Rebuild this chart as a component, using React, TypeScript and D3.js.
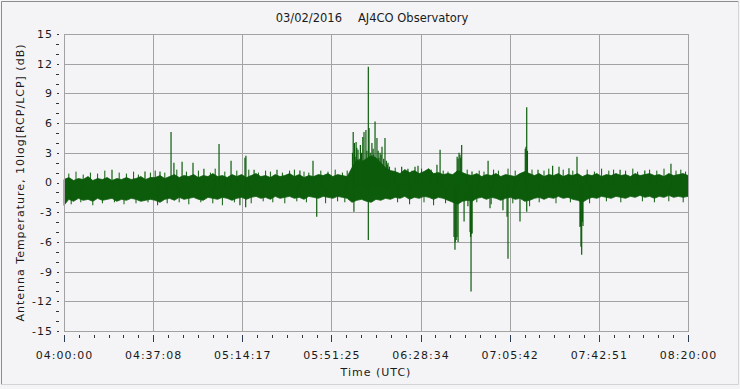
import React from "react";
import * as d3 from "d3";

// ---- data ----
const titleDate = "03/02/2016";
const titleSite = "AJ4CO Observatory";
const xTickLabels = ["04:00:00", "04:37:08", "05:14:17", "05:51:25", "06:28:34", "07:05:42", "07:42:51", "08:20:00"];
const yTickValues = [-15, -12, -9, -6, -3, 0, 3, 6, 9, 12, 15];
const xTitle = "Time (UTC)";
const yTitle = "Antenna Temperature, 10log[RCP/LCP] (dB)";

// envelope of the dense noise band, sampled every 2 minutes from 04:00 (minutes)
const envStep = 2;
const bandUpper = [
  0.3, 0.5, 0.2, 0.4, 0.3, 0.6, 0.2, 0.4, 0.3, 0.5, 0.2, 0.4, 0.3, 0.5, 0.3, 0.4, 0.6, 0.3, 0.5,
  0.5, 0.7, 0.4, 0.6, 0.8, 0.5, 0.7, 0.6, 0.8, 0.5, 0.7, 0.6, 0.9, 0.6, 0.7, 0.5, 0.8,
  0.6, 0.8, 0.5, 0.7, 0.9, 0.6, 0.7, 0.5, 0.8, 0.6, 0.7, 0.9, 0.6, 0.8, 0.5, 0.7, 0.6, 0.8, 0.7, 0.9, 0.6, 0.8, 0.7, 0.6,
  1.5, 2.3, 2.1, 2.4, 2.7, 2.5, 2.0, 1.5, 1.2,
  1.1, 0.9, 1.3, 1.0, 1.2, 0.9, 1.1, 1.4, 0.9, 1.0, 0.8, 0.9,
  0.8, 1.2, 1.0, 0.8, 0.7, 0.9, 0.6, 0.8, 0.7, 0.9,
  0.6, 0.8, 0.7, 0.6, 0.9, 1.1, 0.9, 0.7, 0.9, 0.6,
  0.8, 0.7, 0.9, 0.6, 0.8, 0.7, 0.9, 0.6, 0.8, 0.7,
  0.9, 0.6, 0.8, 0.7, 0.9, 0.7, 0.8, 0.6, 0.9, 0.7,
  0.8, 0.9, 0.7, 0.8, 0.6, 0.9, 0.7, 0.8, 0.9, 0.7,
];
const bandLower = [
  -2.3, -1.7, -1.9, -1.6, -1.8, -1.7, -1.9, -1.6, -1.8, -1.7, -1.6, -1.9, -1.7, -1.8, -1.6, -1.7, -1.9, -1.8, -1.7,
  -1.8, -2.0, -1.7, -1.6, -1.8, -1.5, -1.7, -1.6, -1.5, -1.7, -1.8, -1.5, -1.6, -1.7, -1.5, -1.6, -1.8,
  -1.6, -1.5, -1.7, -1.5, -1.4, -1.6, -1.5, -1.7, -1.4, -1.6, -1.5, -1.4, -1.6, -1.5, -1.7, -1.4, -1.5, -1.6, -1.4, -1.5, -1.6, -1.4, -1.5, -1.6,
  -2.0, -1.8, -1.7, -1.9, -2.0, -1.7, -1.8, -1.6, -1.7,
  -1.5, -1.6, -1.4, -1.7, -1.5, -1.6, -1.4, -1.5, -1.7, -1.5, -1.6, -1.8,
  -2.0, -2.2, -1.9, -1.8, -1.9, -1.6, -1.5, -1.7, -1.5, -1.6,
  -1.8, -1.6, -1.5, -1.7, -1.6, -1.9, -1.8, -1.6, -1.5, -1.7,
  -1.5, -1.6, -1.4, -1.6, -1.5, -1.7, -1.8, -2.0, -1.7, -1.5,
  -1.6, -1.4, -1.5, -1.6, -1.4, -1.5, -1.6, -1.4, -1.5, -1.3,
  -1.5, -1.4, -1.6, -1.4, -1.5, -1.3, -1.5, -1.4, -1.5, -1.4,
];

// isolated spikes: minutes after 04:00 and dB
const spikeTimes = [
  20.0, 33.75, 40.0, 44.6, 45.8, 49.2, 53.75, 58.3, 64.6, 69.6, 75.4, 75.8, 79.2, 88.75, 98.3, 103.75,
  120.5, 121.0, 121.7, 122.5, 123.5, 125.0, 125.8, 126.8, 127.1, 128.3, 129.6, 130.4, 131.7, 132.5, 133.75, 135.0,
  120.2, 121.3, 122.0, 123.0, 124.0, 124.5, 126.2, 127.6, 128.8, 129.0, 130.9, 131.2, 132.1, 133.2, 134.3, 134.7, 135.6,
  140.7, 143.3, 146.25, 147.5, 155.4, 156.7, 163.8, 164.2, 164.6, 165.0, 165.3, 165.7, 170.0, 176.7,
  192.2, 192.5, 192.8, 193.1, 197.5, 203.6, 206.25, 210.4, 213.75, 231.7, 242.0, 252.9,
  73.3, 75.7, 105.3, 120.8, 126.8, 162.5, 162.9, 163.0, 163.4, 163.75, 164.2, 166.7, 168.3, 169.2, 169.4, 169.6,
  169.9, 170.0, 177.5, 182.9, 184.6, 185.0, 190.0, 192.8, 215.0, 215.2, 215.4, 215.7, 216.0, 216.25,
];
const spikeValues = [
  1.3, 1.1, 1.1, 5.1, 2.0, 2.1, 2.0, 1.4, 3.9, 2.2, 2.5, 2.7, 1.3, 1.3, 1.2, 2.2,
  5.1, 4.0, 4.1, 3.3, 3.8, 5.1, 5.3, 11.7, 5.5, 4.0, 6.15, 4.5, 3.0, 3.6, 4.5, 2.0,
  3.0, 2.6, 3.5, 2.4, 3.0, 4.6, 3.2, 3.0, 3.4, 2.8, 3.2, 2.5, 2.8, 2.4, 2.2, 1.8, 1.6,
  1.6, 1.4, 1.6, 1.7, 1.8, 3.3, 2.6, 2.4, 3.0, 2.8, 2.5, 3.8, 1.1, 2.2,
  3.4, 3.6, 7.6, 3.2, 1.3, 1.7, 1.6, 1.45, 2.6, 1.3, 1.2, 1.9,
  -2.3, -2.5, -3.45, -2.95, -5.8, -5.5, -6.8, -6.0, -5.8, -5.5, -6.0, -3.95, -2.4, -5.0, -5.5, -11.0,
  -5.2, -5.1, -2.6, -2.8, -3.45, -7.7, -3.95, -2.95, -4.5, -4.4, -6.5, -7.3, -4.0, -4.4,
];

// small hairs of the noise band (minutes, dB)
const hairTimes = [
  2, 5, 8, 11, 14, 17, 23, 26, 29, 31, 36, 38, 42, 47, 51, 56, 61, 63, 67, 72, 77, 81, 84, 86, 91, 94, 96,
  100, 102, 107, 110, 113, 116, 118, 138, 142, 145, 149, 151, 153, 158, 160, 168, 173, 175, 179, 181, 185,
  188, 195, 200, 202, 208, 212, 218, 221, 224, 227, 229, 234, 237, 239, 244, 247, 250, 255, 257, 259,
  3, 7, 12, 16, 21, 25, 30, 35, 39, 43, 48, 52, 57, 62, 66, 71, 78, 83, 87, 92, 97, 101, 109, 114, 117,
  139, 144, 150, 154, 159, 172, 178, 187, 194, 198, 205, 211, 219, 226, 232, 241, 246, 252, 258,
];
const hairValues = [
  0.9, 1.1, 0.8, 1.0, 0.9, 1.2, 1.0, 0.9, 1.1, 0.8, 1.0, 1.2, 1.0, 1.3, 1.1, 1.2, 1.0, 1.4, 1.1, 1.2, 1.3, 1.0, 1.2, 1.1, 1.0, 1.2, 1.3,
  1.1, 1.0, 1.2, 1.1, 1.3, 1.0, 1.2, 1.5, 1.3, 1.2, 1.4, 1.2, 1.3, 1.2, 1.1, 1.3, 1.2, 1.1, 1.3, 1.2, 1.4,
  1.2, 1.3, 1.2, 1.4, 1.3, 1.2, 1.3, 1.1, 1.4, 1.2, 1.3, 1.2, 1.4, 1.1, 1.3, 1.2, 1.4, 1.2, 1.3, 1.1,
  -2.2, -2.0, -2.3, -2.1, -2.0, -2.2, -2.1, -2.0, -2.3, -2.1, -2.0, -2.2, -2.0, -2.1, -2.3, -2.0, -2.1, -1.9, -2.0, -2.1, -1.9, -2.0, -2.1, -1.9, -2.0,
  -2.0, -2.2, -2.0, -2.3, -2.1, -2.0, -2.2, -2.1, -2.4, -2.0, -2.1, -2.0, -2.1, -1.9, -2.0, -1.9, -2.0, -1.9, -2.0,
];

// ---- layout ----
const W = 740, H = 389;
const M = { left: 64, right: 688, top: 34, bottom: 331 };
const GREEN = "#0c5c0c";
const BG = "#f4f4f6";
const GRID = "#a2a2a2";
const TEXT = "#1a1a1a";
const FONT = "DejaVu Sans, Verdana, sans-serif";

const toMinutes = (s: string) => {
  const [h, m, sec] = s.split(":").map(Number);
  return (h - 4) * 60 + m + sec / 60;
};

export default function App() {
  const xTickVals = xTickLabels.map(toMinutes);
  const x = d3.scaleLinear().domain([xTickVals[0], xTickVals[xTickVals.length - 1]]).range([M.left, M.right]);
  const y = d3.scaleLinear().domain([-15, 15]).range([M.bottom, M.top]);

  const band = bandUpper.map((u, i) => ({ t: i * envStep, u, l: bandLower[i] }));
  const area = d3
    .area<{ t: number; u: number; l: number }>()
    .x((d) => x(d.t))
    .y0((d) => y(d.l))
    .y1((d) => y(d.u))
    .curve(d3.curveLinear);

  const xMinor: number[] = [];
  for (let i = 0; i < xTickVals.length - 1; i++) {
    const a = xTickVals[i], b = xTickVals[i + 1];
    for (let k = 1; k < 6; k++) xMinor.push(a + ((b - a) * k) / 6);
  }
  const yMinor = d3.range(-15, 16, 1).filter((v) => v % 3 !== 0);

  return (
    <svg width={W} height={H} style={{ position: "absolute", left: 0, top: 0, background: BG }} fontFamily={FONT}>
      <rect x={0} y={0} width={W} height={H} fill={BG} />
      {/* outer frame */}
      <line x1={1.5} y1={1.5} x2={W - 1.5} y2={1.5} stroke="#8c8c8c" />
      <line x1={1.5} y1={1.5} x2={1.5} y2={H - 4.5} stroke="#8c8c8c" />
      <line x1={1.5} y1={H - 4.5} x2={W - 1.5} y2={H - 4.5} stroke="#d4d4d4" />
      <line x1={W - 1.5} y1={1.5} x2={W - 1.5} y2={H - 4.5} stroke="#d4d4d4" />

      {/* title */}
      <text x={342} y={22} fontSize={11.5} textAnchor="end" fill={TEXT}>{titleDate}</text>
      <text x={358} y={22} fontSize={11.5} fill={TEXT}>{titleSite}</text>

      {/* grid */}
      {yTickValues.map((v) => (
        <line key={"gy" + v} x1={M.left} x2={M.right} y1={Math.round(y(v)) + 0.5} y2={Math.round(y(v)) + 0.5} stroke={GRID} />
      ))}
      {xTickVals.map((t, i) => (
        <line key={"gx" + i} x1={Math.round(x(t)) + 0.5} x2={Math.round(x(t)) + 0.5} y1={M.top} y2={M.bottom} stroke={GRID} />
      ))}

      {/* data */}
      <path d={area(band) || ""} fill={GREEN} stroke={GREEN} strokeWidth={0.8} />
      {hairTimes.map((t, i) => (
        <line key={"h" + i} x1={x(t)} x2={x(t)} y1={y(-0.4)} y2={y(hairValues[i])} stroke={GREEN} strokeWidth={1} />
      ))}
      {spikeTimes.map((t, i) => (
        <line key={"s" + i} x1={x(t)} x2={x(t)} y1={y(-0.4)} y2={y(spikeValues[i])} stroke={GREEN} strokeWidth={1.2} />
      ))}

      {/* y ticks */}
      {yTickValues.map((v) => (
        <g key={"yt" + v}>
          <line x1={57} x2={59} y1={Math.round(y(v)) + 0.5} y2={Math.round(y(v)) + 0.5} stroke="#333" />
          <text x={53} y={y(v)} dy="0.36em" fontSize={11} letterSpacing={1} textAnchor="end" fill={TEXT}>{v}</text>
        </g>
      ))}
      {yMinor.map((v) => (
        <line key={"ym" + v} x1={56} x2={59} y1={Math.round(y(v)) + 0.5} y2={Math.round(y(v)) + 0.5} stroke="#333" />
      ))}

      {/* x ticks */}
      {xTickVals.map((t, i) => (
        <g key={"xt" + i}>
          <line x1={Math.round(x(t)) + 0.5} x2={Math.round(x(t)) + 0.5} y1={335} y2={342} stroke="#2a3a50" />
          <text x={x(t) + 0.5} y={359} fontSize={11} letterSpacing={1} textAnchor="middle" fill={TEXT}>{xTickLabels[i]}</text>
        </g>
      ))}
      {xMinor.map((t, i) => (
        <line key={"xm" + i} x1={Math.round(x(t)) + 0.5} x2={Math.round(x(t)) + 0.5} y1={335} y2={338} stroke="#333" />
      ))}

      {/* axis titles */}
      <text x={(M.left + M.right) / 2} y={376} fontSize={11} letterSpacing={1} textAnchor="middle" fill={TEXT}>{xTitle}</text>
      <text transform={`translate(24, ${(M.top + M.bottom) / 2}) rotate(-90)`} fontSize={11} letterSpacing={1} textAnchor="middle" fill={TEXT}>{yTitle}</text>

      {/* plot border */}
      <rect x={M.left + 0.5} y={M.top + 0.5} width={M.right - M.left} height={M.bottom - M.top} fill="none" stroke={GRID} />
    </svg>
  );
}
